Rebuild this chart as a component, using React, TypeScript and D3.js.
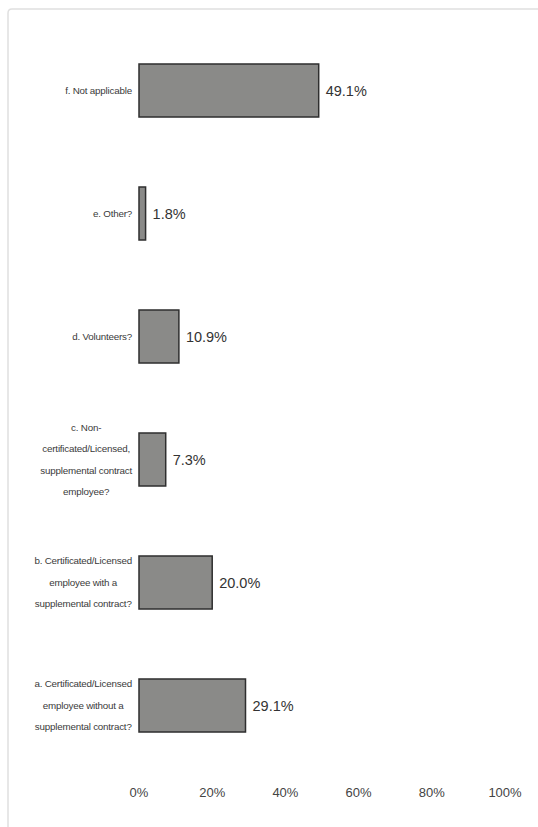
import React, { useRef, useEffect } from 'react';
import * as d3 from 'd3';

// categories top to bottom, with their wrapped label lines
const categories = ['f', 'e', 'd', 'c', 'b', 'a'];
const labelLines: string[][] = [
  ['f. Not applicable'],
  ['e. Other?'],
  ['d. Volunteers?'],
  ['c. Non-', 'certificated/Licensed,', 'supplemental contract', 'employee?'],
  ['b. Certificated/Licensed', 'employee with a', 'supplemental contract?'],
  ['a. Certificated/Licensed', 'employee without a', 'supplemental contract?'],
];
const values = [49.1, 1.8, 10.9, 7.3, 20.0, 29.1];
const ticks = [0, 20, 40, 60, 80, 100];

const W = 538;
const H = 827;
const FONT = '"Liberation Sans", Arial, sans-serif';

export default function App() {
  const svgRef = useRef<SVGSVGElement | null>(null);

  useEffect(() => {
    if (!svgRef.current) return;
    const svg = d3.select(svgRef.current);
    svg.selectAll('*').remove();

    // faint page frame from the scan
    svg.append('path')
      .attr('d', `M${W},9 L12,9 Q8,9 8,13 L8,${H}`)
      .attr('fill', 'none')
      .attr('stroke', '#e0e0e0')
      .attr('stroke-width', 1.5);

    const x = d3.scaleLinear().domain([0, 100]).range([139, 505]);
    const y = d3.scaleBand<string>()
      .domain(categories)
      .range([29, 767])
      .paddingInner(0.569)
      .paddingOuter(0.2845);

    // bars
    svg.append('g')
      .selectAll('rect')
      .data(values)
      .enter()
      .append('rect')
      .attr('x', x(0))
      .attr('y', (_, i) => y(categories[i])!)
      .attr('width', d => x(d) - x(0))
      .attr('height', y.bandwidth())
      .attr('fill', '#8a8a88')
      .attr('stroke', '#2e2e2e')
      .attr('stroke-width', 1.5);

    // value labels
    svg.append('g')
      .selectAll('text')
      .data(values)
      .enter()
      .append('text')
      .attr('x', d => x(d) + 7)
      .attr('y', (_, i) => y(categories[i])! + y.bandwidth() / 2)
      .attr('dy', '0.35em')
      .attr('font-family', FONT)
      .attr('font-size', '14.5px')
      .attr('fill', '#333')
      .text(d => `${d.toFixed(1)}%`);

    // category labels, each block centred on its widest line, right edge at 132
    const lineGap = 21.5;
    categories.forEach((c, i) => {
      const lines = labelLines[i];
      const cy = y(c)! + y.bandwidth() / 2;
      const g = svg.append('g');
      const texts = g.selectAll('text')
        .data(lines)
        .enter()
        .append('text')
        .attr('y', (_, j) => cy + (j - (lines.length - 1) / 2) * lineGap)
        .attr('dy', '0.35em')
        .attr('text-anchor', 'middle')
        .attr('font-family', FONT)
        .attr('font-size', '9.8px')
        .attr('letter-spacing', '-0.2px')
        .attr('fill', '#3a3a3a')
        .text(d => d);
      let maxW = 0;
      texts.each(function () {
        maxW = Math.max(maxW, (this as SVGTextElement).getComputedTextLength());
      });
      texts.attr('x', 132 - maxW / 2);
    });

    // x tick labels
    svg.append('g')
      .selectAll('text')
      .data(ticks)
      .enter()
      .append('text')
      .attr('x', d => x(d))
      .attr('y', 792)
      .attr('dy', '0.35em')
      .attr('text-anchor', 'middle')
      .attr('font-family', FONT)
      .attr('font-size', '13px')
      .attr('fill', '#444')
      .text(d => `${d}%`);
  }, []);

  return (
    <div style={{ position: 'absolute', left: 0, top: 0 }}>
      <svg ref={svgRef} width={W} height={H} style={{ display: 'block', background: '#fff' }} />
    </div>
  );
}
